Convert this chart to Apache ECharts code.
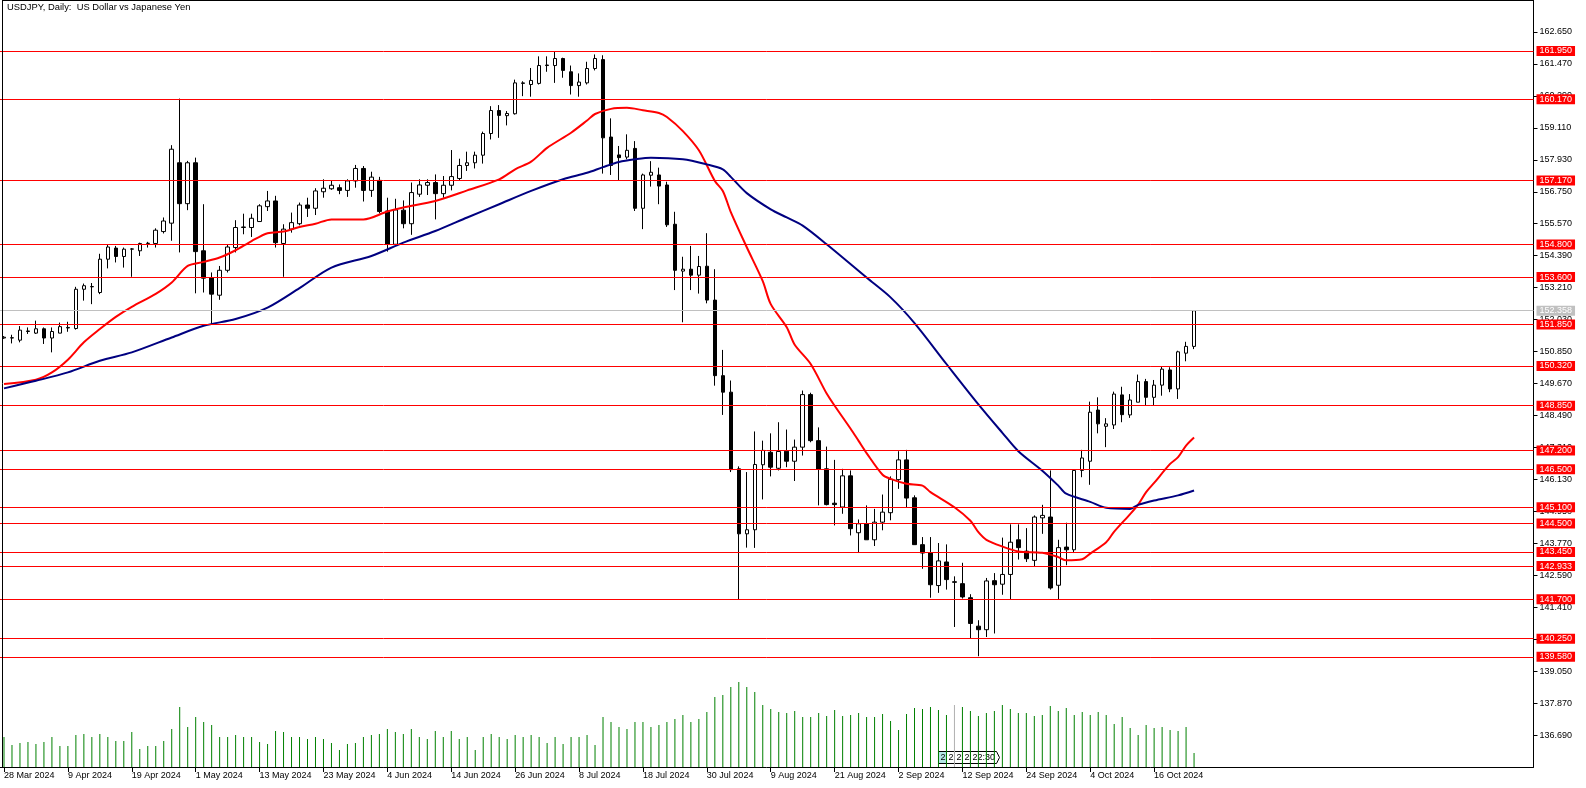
<!DOCTYPE html>
<html>
<head>
<meta charset="utf-8">
<script src="https://cdn.jsdelivr.net/npm/echarts/dist/echarts.min.js"></script>
<style>
html,body{margin:0;padding:0;background:#fff;overflow:hidden;}
#chart{width:1586px;height:788px;}
</style>
</head>
<body>
<div id="chart"></div>
<script>
// ---- categories (trading days) ----
const monthDays = [
  ['Mar', [28,29]],
  ['Apr', [1,2,3,4,5,8,9,10,11,12,15,16,17,18,19,22,23,24,25,26,29,30]],
  ['May', [1,2,3,6,7,8,9,10,13,14,15,16,17,20,21,22,23,24,27,28,29,30,31]],
  ['Jun', [3,4,5,6,7,10,11,12,13,14,17,18,19,20,21,24,25,26,27,28]],
  ['Jul', [1,2,3,4,5,8,9,10,11,12,15,16,17,18,19,22,23,24,25,26,29,30,31]],
  ['Aug', [1,2,5,6,7,8,9,12,13,14,15,16,19,20,21,22,23,26,27,28,29,30]],
  ['Sep', [2,3,4,5,6,9,10,11,12,13,16,17,18,19,20,23,24,25,26,27,30]],
  ['Oct', [1,2,3,4,7,8,9,10,11,14,15,16,17,18,21,22,23]]
];
const dates = [];
monthDays.forEach(([m, ds]) => ds.forEach(d => dates.push(d + ' ' + m + ' 2024')));

// ---- OHLC ----
const open = [151.35,151.35,151.27,151.59,151.53,151.69,151.35,151.53,151.72,151.70,
153.15,153.24,153.03,154.26,154.67,154.36,154.63,154.57,154.84,154.84,
155.28,155.59,157.82,156.31,157.82,154.57,153.58,152.93,153.85,154.69,
155.43,155.43,155.65,156.20,156.41,154.84,155.37,155.57,156.26,156.14,
156.75,156.86,156.90,156.80,157.15,157.61,156.80,157.17,156.04,154.81,
156.07,155.57,156.66,156.99,157.09,156.68,156.99,157.24,157.72,157.82,
158.10,158.90,159.75,159.56,159.63,160.75,160.71,160.75,161.41,161.41,
161.67,161.18,160.67,160.77,161.30,161.63,158.77,158.11,158.03,158.35,
156.14,157.36,157.37,157.00,155.55,153.82,153.89,153.67,154.00,152.75,
149.96,149.35,146.52,144.12,144.27,146.67,147.13,146.54,147.17,146.80,
147.32,149.26,147.56,146.52,145.25,145.11,146.26,144.16,144.49,143.90,
144.55,144.90,146.12,146.85,145.45,143.72,143.41,142.21,143.08,142.35,
142.28,141.76,140.71,140.58,142.39,142.26,142.62,143.90,143.48,143.14,
144.71,144.74,142.22,143.63,143.53,146.46,146.80,148.69,148.09,148.14,
149.25,148.51,148.98,149.74,149.16,149.61,150.17,149.47,150.79,151.04];
const high = [151.42,151.47,151.79,151.74,151.99,151.74,151.74,151.92,151.95,153.24,
153.36,153.38,154.46,154.79,154.75,154.69,154.67,154.87,154.90,155.40,
155.80,158.47,160.19,157.89,158.01,156.29,153.77,154.01,154.81,155.70,
155.94,155.94,156.29,156.78,156.60,155.55,155.98,156.35,156.53,156.88,
157.21,157.15,157.02,157.21,157.74,157.70,157.49,157.30,156.53,156.49,
156.43,157.09,157.21,157.21,157.39,157.33,158.29,157.97,158.23,158.23,
158.97,159.91,159.95,159.73,160.89,160.83,161.32,161.75,161.75,161.94,
161.70,161.41,161.12,161.55,161.82,161.79,159.46,158.44,158.87,158.62,
157.42,157.88,157.64,157.12,156.01,154.35,154.75,154.38,155.22,153.89,
150.91,149.78,146.61,146.40,147.90,147.56,147.83,148.24,147.97,147.60,
149.41,149.33,148.05,147.34,146.85,146.52,146.46,144.65,145.17,145.04,
145.57,146.24,147.17,147.22,145.54,144.00,144.00,143.78,143.73,142.55,
143.05,141.89,140.93,142.49,142.67,143.98,144.47,144.47,144.33,144.80,
145.19,146.46,143.90,144.53,146.51,147.22,149.00,149.16,148.39,149.37,
149.55,149.28,150.00,149.84,149.80,150.29,150.27,150.88,151.21,152.38];
const low = [151.32,151.15,151.19,151.50,151.50,151.13,150.82,151.53,151.58,151.66,
152.73,152.60,152.97,153.92,154.14,153.95,153.61,154.38,154.69,154.69,
155.21,154.94,154.51,156.07,153.00,153.03,151.86,152.76,153.77,154.51,
155.18,155.08,155.65,156.04,154.69,153.61,155.24,155.51,155.82,155.89,
156.53,156.82,156.66,156.56,156.90,156.39,156.56,155.95,154.54,154.81,
155.40,155.16,156.56,156.63,155.73,156.53,156.80,157.17,157.52,157.61,
157.79,158.68,158.74,159.20,159.60,160.28,160.26,160.71,161.18,160.77,
160.96,160.34,160.26,160.71,161.23,157.42,157.37,157.18,157.95,156.04,
155.37,156.94,156.29,155.45,153.12,151.93,153.12,152.99,152.63,149.59,
148.51,146.40,141.69,143.61,143.60,145.39,146.24,146.46,146.58,146.07,
147.01,147.50,145.17,145.17,144.43,144.86,144.06,143.41,143.90,143.67,
144.25,144.62,145.78,145.11,143.72,142.83,141.76,141.94,142.06,140.68,
141.73,140.25,139.60,140.31,140.44,141.87,141.69,143.17,143.08,142.92,
144.12,142.06,141.69,142.96,143.41,146.21,145.93,147.83,147.32,147.99,
148.24,148.40,148.98,148.85,148.85,149.22,149.35,149.10,150.49,150.94];
const close = [151.38,151.36,151.64,151.61,151.69,151.35,151.59,151.77,151.74,153.15,
153.28,153.25,154.26,154.71,154.36,154.63,154.64,154.84,154.85,155.33,
155.67,158.32,156.31,157.82,154.54,153.56,152.97,153.85,154.71,155.43,
155.45,155.77,156.23,156.41,154.87,155.37,155.61,156.26,156.14,156.78,
156.88,156.99,156.80,157.15,157.61,156.80,157.29,156.02,154.81,156.08,
155.57,156.72,157.00,157.09,156.68,156.99,157.31,157.72,157.82,158.10,
158.90,159.75,159.57,159.64,160.77,160.77,160.86,161.41,161.43,161.67,
161.23,160.67,160.80,161.30,161.67,158.74,157.72,158.01,158.28,156.14,
157.37,157.47,156.96,155.53,153.85,153.89,153.67,153.99,152.75,149.96,
149.35,146.49,144.12,144.27,146.68,147.20,146.58,147.16,146.80,147.32,
149.26,147.56,146.50,145.20,145.20,146.26,144.31,144.49,143.90,144.55,
144.92,146.13,146.85,145.44,143.72,143.41,142.24,143.12,142.43,142.33,
141.79,140.81,140.58,142.38,142.24,142.62,143.81,143.61,143.20,144.74,
144.80,142.12,143.61,143.53,146.46,146.92,148.61,148.18,148.18,149.28,
148.52,149.06,149.74,149.16,149.61,150.20,149.47,150.84,151.04,152.358];

// ---- tick volume (thousands, as read) ----
const volume = [30,22,24,25,23,25,30,21,21,32,
33,30,33,30,26,26,35,18,21,21,
26,38,60,40,50,45,42,30,30,32,
30,30,25,23,36,35,30,30,28,30,
28,24,17,23,24,30,32,33,38,35,
33,38,30,28,36,30,36,28,30,17,
30,33,30,28,32,30,32,30,24,30,
23,30,30,32,22,50,45,40,38,45,
45,40,42,45,48,52,45,48,55,70,
72,80,85,80,75,62,58,55,54,56,
50,50,54,51,57,51,52,54,50,50,
53,46,37,53,59,58,60,57,52,62,
60,56,51,54,56,62,58,54,54,51,
52,61,56,59,52,55,52,55,52,43,
50,39,32,42,39,40,37,36,40,14];
const highlightedBar = 119;

// ---- moving averages, read at sample bars [barIndex, value] ----
const maRed = [[0,149.65],[4,149.81],[6,150.08],[8,150.55],[10,151.19],[12,151.68],[14,152.13],[16,152.50],
[19,152.98],[21,153.40],[23,154.01],[25,154.16],[27,154.32],[29,154.59],[31,154.93],[33,155.22],[35,155.28],
[37,155.45],[39,155.57],[41,155.73],[45,155.73],[48,156.02],[50,156.17],[54,156.41],[58,156.80],[62,157.21],
[64,157.58],[66,157.86],[68,158.37],[71,158.93],[73,159.38],[74,159.62],[76,159.81],[78,159.85],[80,159.76],
[82,159.66],[83,159.51],[85,158.99],[87,158.28],[89,157.15],[90,156.78],[91,156.0],[93,154.7],[95,153.45],
[96,152.6],[98,151.75],[99,151.1],[101,150.39],[103,149.3],[104,148.85],[106,148.0],[107,147.55],[108,147.1],
[110,146.3],[111,146.15],[113,145.97],[115,145.90],[116,145.66],[119,145.10],[121,144.6],[122,144.18],
[123,143.90],[125,143.65],[127,143.47],[130,143.42],[132,143.26],[133,143.14],[135,143.18],[136,143.39],
[138,143.81],[139,144.2],[141,144.85],[142,145.2],[143,145.66],[144,146.0],[146,146.7],[147,146.95],
[148,147.38],[149,147.68]];
const maBlue = [[0,149.49],[4,149.77],[8,150.08],[12,150.51],[16,150.82],[21,151.37],[25,151.80],[29,152.05],
[33,152.47],[37,153.19],[41,153.95],[46,154.38],[50,154.87],[54,155.30],[58,155.80],[62,156.29],[66,156.78],
[70,157.21],[73,157.45],[75,157.66],[77,157.85],[79,157.95],[81,158.01],[85,157.95],[88,157.76],[90,157.58],
[91,157.3],[93,156.7],[96,156.1],[98,155.8],[100,155.5],[103,154.81],[108,153.58],[111,152.85],[114,151.9],
[118,150.39],[122,148.9],[125,147.85],[127,147.17],[130,146.45],[132,145.90],[133,145.6],[136,145.3],
[138,145.08],[141,145.04],[142,145.19],[144,145.35],[147,145.54],[149,145.72]];

// ---- horizontal levels ----
const levels = [161.95,160.17,157.17,154.80,153.60,151.85,150.32,148.85,147.20,146.50,145.10,144.50,143.45,142.933,141.70,140.25,139.58];
const bid = 152.358;

// ---- axis settings ----
const yMin = 135.51, yMax = 163.83, yStep = 1.18;
const TOTAL_SLOTS = 192;
const LABEL_EVERY = 8;

const FONT = 'Liberation Sans';
const cats = dates.concat(Array.from({length: TOTAL_SLOTS - dates.length}, (_, k) => '_' + k));
const candleData = dates.map((_, i) => [open[i], close[i], low[i], high[i]]);
const volData = volume.map((v, i) => i === highlightedBar ? {value: v, itemStyle: {color: '#b0b0b0'}} : v);
const showTick = (i) => i % LABEL_EVERY === 0 && i < dates.length;

const levelData = levels.map(v => ({yAxis: v, name: v.toFixed(3)}));
levelData.push({
  yAxis: bid, name: bid.toFixed(3),
  lineStyle: {color: '#c0c0c0', width: 1, type: 'solid'},
  label: {backgroundColor: '#c0c0c0', color: '#fff'}
});

const chart = echarts.init(document.getElementById('chart'), null, {renderer: 'canvas'});
chart.setOption({
  animation: false,
  backgroundColor: '#fff',
  grid: {left: -1.5, right: 52.5, top: -1, bottom: 21, containLabel: false},
  xAxis: {
    type: 'category', data: cats, boundaryGap: true,
    axisLine: {show: true, lineStyle: {color: '#000', width: 1}},
    axisTick: {show: true, alignWithLabel: true, interval: showTick, length: 5, lineStyle: {color: '#000'}},
    axisLabel: {interval: showTick, align: 'left', margin: 4, fontSize: 9, fontFamily: FONT, color: '#000'},
    splitLine: {show: false}
  },
  yAxis: [{
    type: 'value', position: 'right', min: yMin, max: yMax, interval: yStep,
    axisLine: {show: true, lineStyle: {color: '#000', width: 1}},
    axisTick: {show: true, length: 4, lineStyle: {color: '#000'}},
    axisLabel: {margin: 6, fontSize: 9, fontFamily: FONT, color: '#000',
      showMinLabel: false, showMaxLabel: false, formatter: v => v.toFixed(3)},
    splitLine: {show: false}
  }, {
    type: 'value', min: 0, max: 768, show: false
  }],
  series: [{
    type: 'bar', yAxisIndex: 1, data: volData, barWidth: 1, z: 1,
    itemStyle: {color: '#008000'}, silent: true
  }, {
    type: 'candlestick', data: candleData, barWidth: 4, z: 3,
    itemStyle: {color: '#ffffff', color0: '#000000', borderColor: '#000000', borderColor0: '#000000', borderWidth: 1},
    markLine: {
      silent: true, symbol: ['none', 'none'], animation: false, z: 6,
      lineStyle: {color: '#ff0000', width: 1, type: 'solid'},
      label: {show: true, position: 'end', distance: 3, color: '#fff', backgroundColor: '#ff0000',
        fontSize: 9, fontFamily: FONT, lineHeight: 10, padding: [0, 3, 0, 3],
        formatter: p => p.name},
      emphasis: {disabled: true},
      data: levelData
    }
  }, {
    type: 'line', data: maRed, showSymbol: false, smooth: 0.3, z: 4, silent: true,
    lineStyle: {color: '#ff0000', width: 2}
  }, {
    type: 'line', data: maBlue, showSymbol: false, smooth: 0.3, z: 4, silent: true,
    lineStyle: {color: '#000080', width: 2}
  }],
  graphic: [
    {type: 'line', shape: {x1: 2.5, y1: 0, x2: 2.5, y2: 767}, style: {stroke: '#000', lineWidth: 1}, z: 100},
    {type: 'line', shape: {x1: 2, y1: 0.5, x2: 1534, y2: 0.5}, style: {stroke: '#000', lineWidth: 1}, z: 100},
    {type: 'text', left: 7, top: 3, z: 100,
      style: {text: 'USDJPY, Daily:  US Dollar vs Japanese Yen', fontSize: 9.4, fontFamily: FONT, fill: '#000'}},
    {type: 'group', left: 938, top: 751, z: 100, children: [
      {type: 'rect', shape: {x: 0, y: 0, width: 8, height: 12}, style: {fill: '#b4e6e6', stroke: '#000', lineWidth: 1}},
      {type: 'text', x: 2, y: 1.5, style: {text: '2', fontSize: 9, fontFamily: FONT, fill: '#000'}},
      {type: 'rect', shape: {x: 8, y: 0, width: 8, height: 12}, style: {fill: '#fff', stroke: '#000', lineWidth: 1}},
      {type: 'text', x: 10, y: 1.5, style: {text: '2', fontSize: 9, fontFamily: FONT, fill: '#000'}},
      {type: 'rect', shape: {x: 16, y: 0, width: 8, height: 12}, style: {fill: '#fff', stroke: '#000', lineWidth: 1}},
      {type: 'text', x: 18, y: 1.5, style: {text: '2', fontSize: 9, fontFamily: FONT, fill: '#000'}},
      {type: 'rect', shape: {x: 24, y: 0, width: 8, height: 12}, style: {fill: '#fff', stroke: '#000', lineWidth: 1}},
      {type: 'text', x: 26, y: 1.5, style: {text: '2', fontSize: 9, fontFamily: FONT, fill: '#000'}},
      {type: 'polygon', shape: {points: [[32,0],[58,0],[61,6],[58,12],[32,12]]}, style: {fill: '#fff', stroke: '#000', lineWidth: 1}},
      {type: 'text', x: 34, y: 1.5, style: {text: '22:30', fontSize: 9, fontFamily: FONT, fill: '#000'}}
    ]}
  ]
});
</script>
</body>
</html>
